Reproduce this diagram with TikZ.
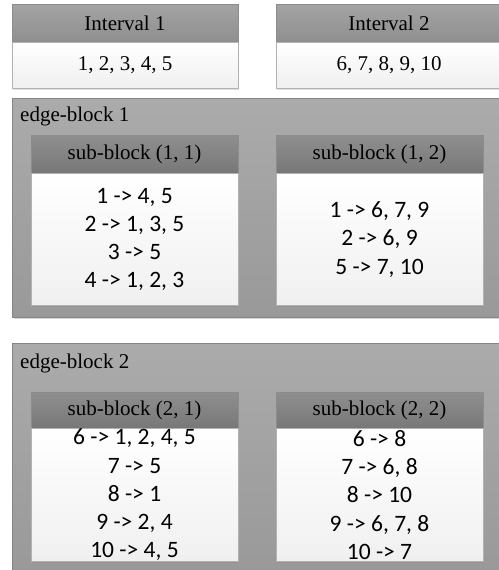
\documentclass[tikz,border=0pt]{standalone}
\usepackage{fontspec}
\setmainfont{Liberation Serif}
\newfontfamily\listfont{Carlito}
\usetikzlibrary{positioning,shadows}
\tikzstyle{head} = [
rectangle,
minimum width=226pt,
minimum height=38pt,
inner sep=0pt,
draw=black!45,
top color=black!36,
bottom color=black!44,
font=\fontsize{21}{24}\selectfont
]
\tikzstyle{cell} = [
rectangle,
minimum width=226pt,
minimum height=46pt,
inner sep=0pt,
draw=black!30,
top color=white,
bottom color=black!6,
drop shadow={shadow xshift=1.2pt,shadow yshift=-1.2pt,opacity=0.25},
font=\fontsize{21}{24}\selectfont
]
\tikzstyle{subhead} = [head, minimum width=207pt, top color=black!44, bottom color=black!53]
\tikzstyle{sublist} = [cell, minimum width=207pt, minimum height=132pt, align=center,
font=\listfont\fontsize{23.5}{28.3}\selectfont]
\tikzstyle{block} = [
rectangle,
minimum width=491pt,
inner sep=0pt,
draw=black!48,
top color=black!33,
bottom color=black!40,
drop shadow={shadow xshift=1.5pt,shadow yshift=-1.5pt,opacity=0.3}
]
\tikzstyle{title} = [anchor=west, inner sep=0pt, font=\fontsize{21}{24}\selectfont]

\begin{document}
\begin{tikzpicture}[x=1pt, y=-1pt]
      \useasboundingbox [fill=white] (0,0) rectangle (498,570);
      % vertex intervals
      \node (int1) [head] at (125,23) {Interval 1};
      \node (set1) [cell, below=0pt of int1] {1, 2, 3, 4, 5};
      \node (int2) [head] at (389,23) {Interval 2};
      \node (set2) [cell, below=0pt of int2] {6, 7, 8, 9, 10};
      % edge-block 1
      \node (eb1) [block, minimum height=219pt] at (257.5,207.5) {};
      \node (lab1) [title] at (20,116) {edge-block 1};
      \node (sb11) [subhead] at (134.5,154) {sub-block (1, 1)};
      \node (ls11) [sublist, below=0pt of sb11] {1 -> 4, 5\\2 -> 1, 3, 5\\3 -> 5\\4 -> 1, 2, 3};
      \node (sb12) [subhead] at (379.5,154) {sub-block (1, 2)};
      \node (ls12) [sublist, below=0pt of sb12] {1 -> 6, 7, 9\\2 -> 6, 9\\5 -> 7, 10};
      % edge-block 2
      \node (eb2) [block, minimum height=232pt] at (257.5,459) {};
      \node (lab2) [title] at (20,363) {edge-block 2};
      \node (sb21) [subhead, minimum height=36pt] at (134.5,410) {sub-block (2, 1)};
      \node (ls21) [sublist, minimum height=133pt, below=0pt of sb21] {6 -> 1, 2, 4, 5\\7 -> 5\\8 -> 1\\9 -> 2, 4\\10 -> 4, 5};
      \node (sb22) [subhead, minimum height=36pt] at (379.5,410) {sub-block (2, 2)};
      \node (ls22) [sublist, minimum height=133pt, below=0pt of sb22] {6 -> 8\\7 -> 6, 8\\8 -> 10\\9 -> 6, 7, 8\\10 -> 7};
\end{tikzpicture}
\end{document}
